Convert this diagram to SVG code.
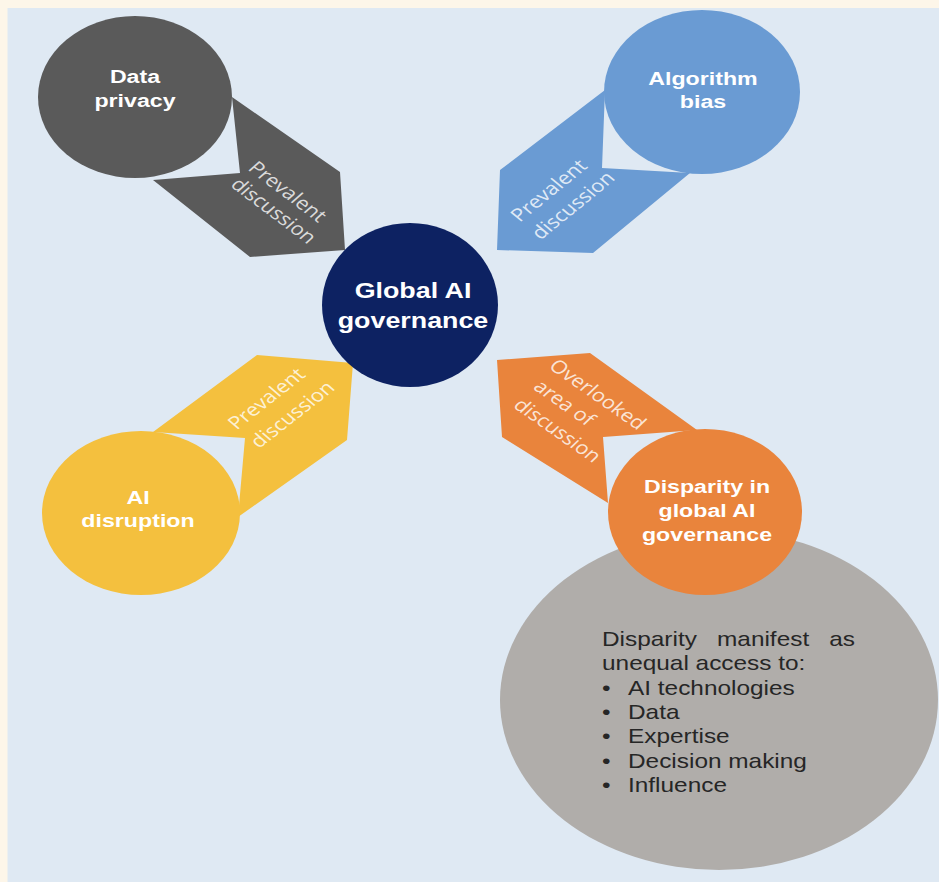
<svg xmlns="http://www.w3.org/2000/svg" width="939" height="882" viewBox="0 0 939 882">
<style>
.lbl{font-family:"Liberation Sans",Arial,sans-serif;font-weight:bold;font-size:19px;fill:#ffffff;text-anchor:middle}
.big{font-size:22px}
.band{font-family:"Open Sans","Noto Sans",sans-serif;font-size:18px;fill:#ffffff;fill-opacity:0.8;text-anchor:middle}
.body{font-family:"Liberation Sans",Arial,sans-serif;font-size:20px;fill:#262626}
</style>
<rect x="0" y="0" width="939" height="882" fill="#fdf6e9"/>
<rect x="7.5" y="8" width="931.5" height="874" fill="#dfe9f3"/>

<g id="connectors">
  <polygon points="232,97 340,172 345,250 250,257 153,180 240,173" fill="#5a5a5a"/>
  <polygon points="605,90 500,170 497,250 593,253 690,173 602,168" fill="#6a9bd3"/>
  <polygon points="153,432 257,355 353,363 347,440 238,517 245,438" fill="#f4c03e"/>
  <polygon points="497,360 590,353 697,430 603,437 608,503 502,437" fill="#e9843c"/>
  <text class="band" transform="translate(282.6,196.2) scale(1.22,1) rotate(42.6)">Prevalent</text>
  <text class="band" transform="translate(268.6,215.2) scale(1.22,1) rotate(42.6)">discussion</text>
  <text class="band" transform="translate(554.2,194.8) scale(1.22,1) rotate(-44.7)">Prevalent</text>
  <text class="band" transform="translate(578.3,209.8) scale(1.22,1) rotate(-44.7)">discussion</text>
  <text class="band" transform="translate(271.7,403.1) scale(1.22,1) rotate(-43.6)">Prevalent</text>
  <text class="band" transform="translate(297.5,419) scale(1.22,1) rotate(-43.6)">discussion</text>
  <text class="band" transform="translate(592.8,399.1) scale(1.22,1) rotate(40.5)">Overlooked</text>
  <text class="band" transform="translate(559.5,407.5) scale(1.22,1) rotate(40.5)">area of</text>
  <text class="band" transform="translate(552.8,435) scale(1.22,1) rotate(40.5)">discussion</text>
</g>

<g id="node-data-privacy">
  <ellipse cx="135" cy="97" rx="97" ry="81" fill="#5a5a5a"/>
  <text class="lbl" transform="translate(135,83) scale(1.22,1)">Data</text>
  <text class="lbl" transform="translate(135,107) scale(1.22,1)">privacy</text>
</g>

<g id="node-algorithm-bias">
  <ellipse cx="702" cy="92" rx="98" ry="82" fill="#6a9bd3"/>
  <text class="lbl" transform="translate(703,85) scale(1.22,1)">Algorithm</text>
  <text class="lbl" transform="translate(703,108) scale(1.22,1)">bias</text>
</g>

<g id="node-ai-disruption">
  <ellipse cx="141" cy="513" rx="99" ry="82" fill="#f4c03e"/>
  <text class="lbl" transform="translate(138,504) scale(1.22,1)">AI</text>
  <text class="lbl" transform="translate(138,527) scale(1.22,1)">disruption</text>
</g>

<g id="node-disparity-details">
  <ellipse cx="719" cy="700" rx="219" ry="170" fill="#b0adaa"/>
  <text class="body" transform="translate(602,646) scale(1.22,1)">Disparity</text>
  <text class="body" transform="translate(717,646) scale(1.22,1)">manifest</text>
  <text class="body" text-anchor="end" transform="translate(855,646) scale(1.22,1)">as</text>
  <text class="body" transform="translate(602,670.3) scale(1.22,1)">unequal access to:</text>
  <text class="body" transform="translate(602,694.6) scale(1.22,1)">•</text>
  <text class="body" transform="translate(628,694.6) scale(1.22,1)">AI technologies</text>
  <text class="body" transform="translate(602,718.9) scale(1.22,1)">•</text>
  <text class="body" transform="translate(628,718.9) scale(1.22,1)">Data</text>
  <text class="body" transform="translate(602,743.2) scale(1.22,1)">•</text>
  <text class="body" transform="translate(628,743.2) scale(1.22,1)">Expertise</text>
  <text class="body" transform="translate(602,767.5) scale(1.22,1)">•</text>
  <text class="body" transform="translate(628,767.5) scale(1.22,1)">Decision making</text>
  <text class="body" transform="translate(602,791.8) scale(1.22,1)">•</text>
  <text class="body" transform="translate(628,791.8) scale(1.22,1)">Influence</text>
</g>

<g id="node-disparity">
  <ellipse cx="705" cy="512" rx="97" ry="83" fill="#e9843c"/>
  <text class="lbl" transform="translate(707,493) scale(1.22,1)">Disparity in</text>
  <text class="lbl" transform="translate(707,517) scale(1.22,1)">global AI</text>
  <text class="lbl" transform="translate(707,541) scale(1.22,1)">governance</text>
</g>

<g id="node-global">
  <ellipse cx="410" cy="305" rx="88" ry="82" fill="#0d2262"/>
  <text class="lbl big" transform="translate(413,298) scale(1.22,1)">Global AI</text>
  <text class="lbl big" transform="translate(413,328) scale(1.22,1)">governance</text>
</g>
</svg>
